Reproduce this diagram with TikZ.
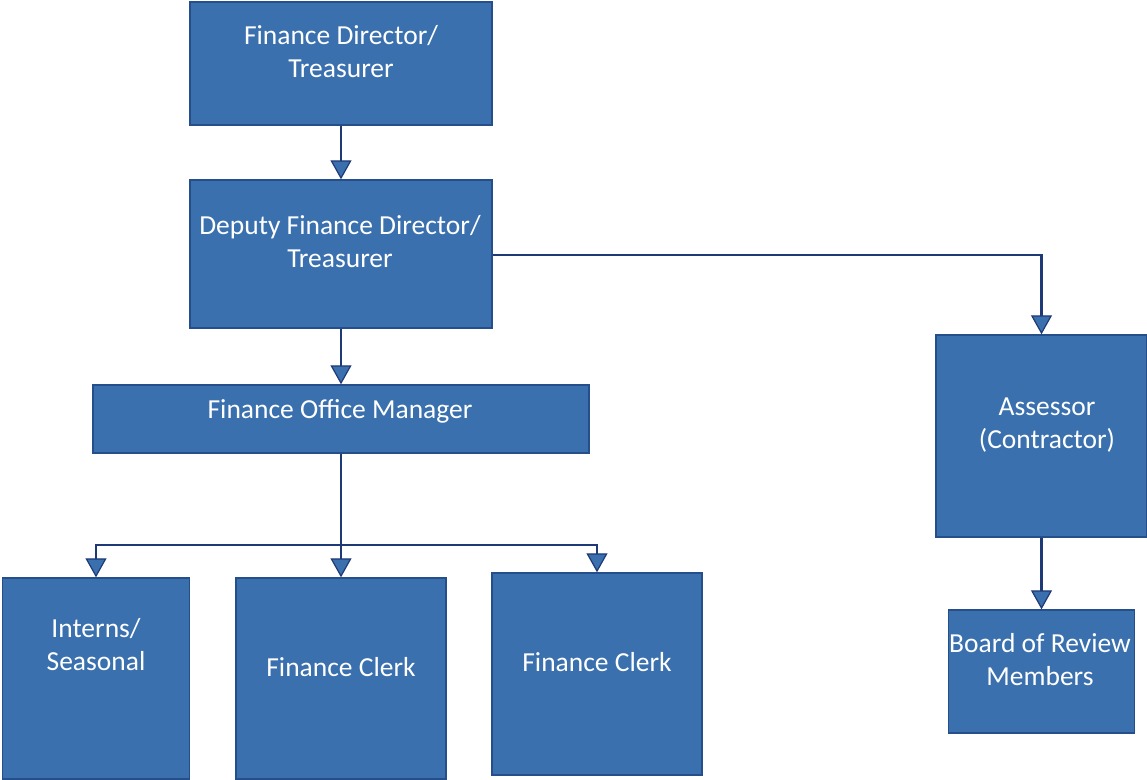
\documentclass[tikz,border=0pt]{standalone}
\usepackage{fontspec}
\setmainfont{Carlito}
\usetikzlibrary{arrows.meta,calc}
\definecolor{boxblue}{RGB}{58,112,174}
\definecolor{boxedge}{RGB}{38,78,138}
\definecolor{linkblue}{RGB}{30,58,118}
\begin{document}
\begin{tikzpicture}[x=1pt,y=-1pt,
  orgbox/.style={draw=boxedge,line width=1.4pt,fill=boxblue,inner sep=0pt},
  orgtext/.style={text=white,align=center,inner sep=0pt,
    font=\fontsize{27.5}{33}\selectfont},
  link/.style={draw=linkblue,line width=2.4pt},
  linkarrow/.style={link,-{Triangle[width=21pt,length=19pt,fill=boxblue,line width=1.2pt]}}]
\useasboundingbox (0,0) rectangle (1147,779);

% boxes
\node[orgbox,minimum width=302pt,minimum height=123pt] (fd)   at (341,63.5) {};
\node[orgbox,minimum width=302pt,minimum height=148pt] (dfd)  at (341,254) {};
\node[orgbox,minimum width=496pt,minimum height=68pt]  (fom)  at (341,419) {};
\node[orgbox,minimum width=187pt,minimum height=201pt] (int)  at (96,678.5) {};
\node[orgbox,minimum width=210pt,minimum height=201pt] (fc1)  at (341,678.5) {};
\node[orgbox,minimum width=210pt,minimum height=202pt] (fc2)  at (597,674) {};
\node[orgbox,minimum width=211pt,minimum height=202pt] (ass)  at (1041.5,436) {};
\node[orgbox,minimum width=186pt,minimum height=123pt] (bor)  at (1041.5,671.5) {};

% labels
\node[orgtext] (tfd)  at (341,52)  {Finance Director/\\Treasurer};
\node[orgtext] (tdfd) at (340,242) {Deputy Finance Director/\\Treasurer};
\node[orgtext] (tfom) at (340,411) {Finance Office Manager};
\node[orgtext] (tint) at (96,645)  {Interns/\\Seasonal};
\node[orgtext] (tfc1) at (341,667) {Finance Clerk};
\node[orgtext] (tfc2) at (597,662) {Finance Clerk};
\node[orgtext] (tass) at (1047,425) {Assessor\\(Contractor)};
\node[orgtext] (tbor) at (1040,660) {Board of Review\\Members};

% connectors
\draw[linkarrow] (fd.south) -- (dfd.north);
\draw[linkarrow] (dfd.east |- 0,255) -| (ass.north);
\draw[linkarrow] (dfd.south) -- (fom.north);
\coordinate (bus) at (341,545);
\draw[link] (fom.south) -- (bus);
\draw[linkarrow] (bus) -- (fc1.north);
\draw[linkarrow] (bus) -| (int.north);
\draw[linkarrow] (bus) -| (fc2.north);
\draw[linkarrow] (ass.south) -- (bor.north);
\end{tikzpicture}
\end{document}
